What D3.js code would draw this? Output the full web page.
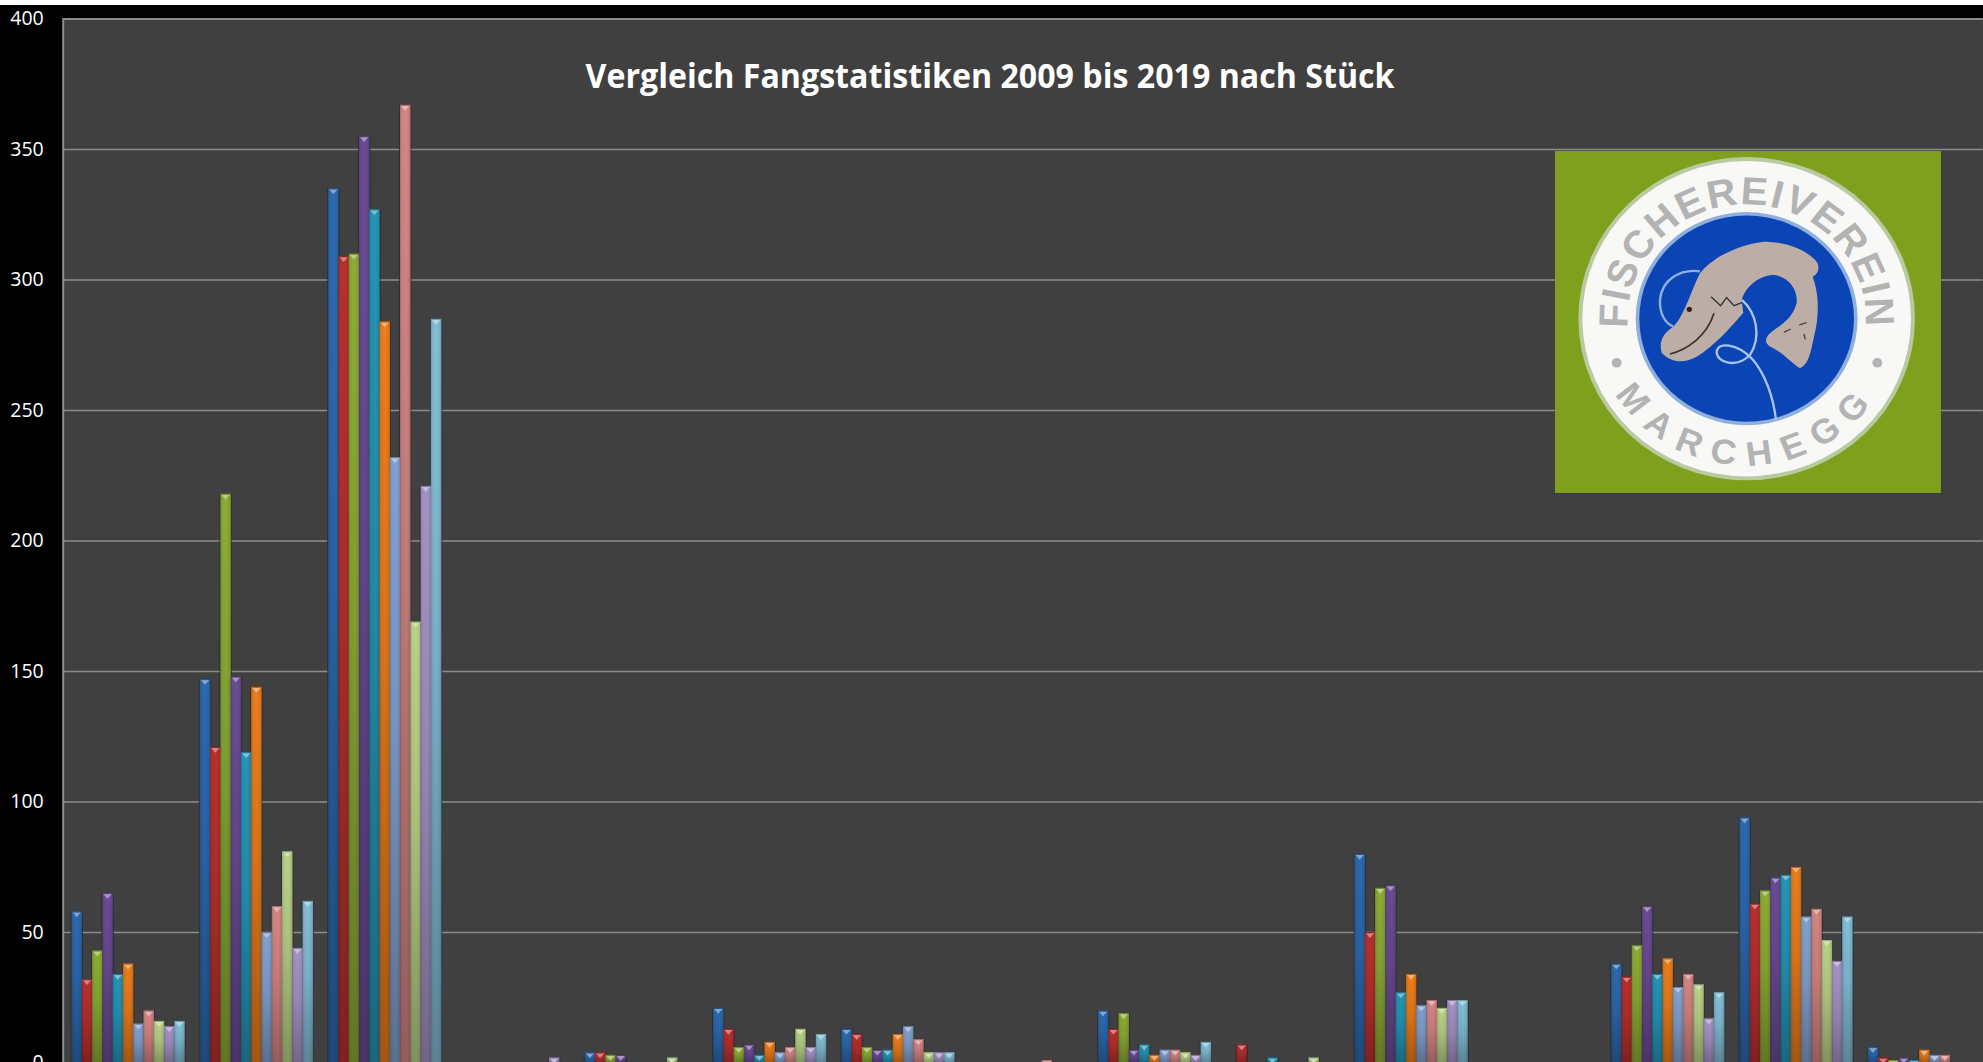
<!DOCTYPE html>
<html lang="de">
<head>
<meta charset="utf-8">
<title>Vergleich Fangstatistiken</title>
<script src="https://cdn.jsdelivr.net/npm/d3@7"></script>
<style>
html,body{margin:0;padding:0;background:#000;overflow:hidden}
svg{display:block}
</style>
</head>
<body>
<script>
const titleText = "Vergleich Fangstatistiken 2009 bis 2019 nach Stück";
const categories = ["1","2","3","4","5","6","7","8","9","10","11","12","13","14","15"];
const years = ["2009","2010","2011","2012","2013","2014","2015","2016","2017","2018","2019"];
const s2009 = [58,147,335,0,4,21,13,0,20,0,80,0,38,94,6];
const s2010 = [32,121,309,0,4,13,11,0,13,7,50,0,33,61,2];
const s2011 = [43,218,310,0,3,6,6,0,19,0,67,0,45,66,1];
const s2012 = [65,148,355,0,3,7,5,0,5,0,68,0,60,71,2];
const s2013 = [34,119,327,0,0,3,5,0,7,2,27,0,34,72,1];
const s2014 = [38,144,284,0,0,8,11,0,3,0,34,0,40,75,5];
const s2015 = [15,50,232,0,0,4,14,0,5,0,22,0,29,56,3];
const s2016 = [20,60,367,0,0,6,9,1,5,0,24,0,34,59,3];
const s2017 = [16,81,169,0,2,13,4,0,4,2,21,0,30,47,0];
const s2018 = [14,44,221,2,0,6,4,0,3,0,24,0,17,39,0];
const s2019 = [16,62,285,0,0,11,4,0,8,0,24,0,27,56,0];
const seriesValues = [s2009,s2010,s2011,s2012,s2013,s2014,s2015,s2016,s2017,s2018,s2019];
const colors = ["#2b67ab","#b32f2d","#88a834","#674a90","#2492b2","#e67a1b","#7f9dcb","#cf8381","#b5cd85","#a18fc1","#80bad2"];
const yTicks = [0,50,100,150,200,250,300,350,400];

const W = 1983, H = 1062;
const plot = {left:63.5, right:1988, top:19, bottom:1063};

const svg = d3.select("body").append("svg").attr("width",W).attr("height",H);
const defs = svg.append("defs");

svg.append("rect").attr("width",W).attr("height",H).attr("fill","#000");
svg.append("rect").attr("width",W).attr("height",5).attr("fill","#fff");
svg.append("rect").attr("x",plot.left).attr("y",plot.top)
   .attr("width",W-plot.left).attr("height",H-plot.top).attr("fill","#404040");

const y = d3.scaleLinear().domain([0,400]).range([plot.bottom,plot.top]);
const x0 = d3.scaleBand().domain(categories).range([plot.left,plot.right]).paddingInner(0).paddingOuter(0);
const groupInset = 8, groupW = 113;
const x1 = d3.scaleBand().domain(years).range([groupInset,groupInset+groupW]);

// axis and grid
const axis = d3.axisLeft(y).tickValues(yTicks).tickSize(-(W-plot.left)).tickPadding(20).offset(0);
const gAxis = svg.append("g").attr("transform",`translate(${plot.left-.3},0)`).call(axis);
gAxis.select(".domain").attr("stroke","#8c8c8c").attr("stroke-width",2);
gAxis.selectAll(".tick line").attr("stroke","#8c8c8c").attr("stroke-width",1.6);
gAxis.selectAll(".tick text").attr("fill","#fff").attr("x",-19.5)
     .style("font-family","'Open Sans',sans-serif").style("font-size","19.5px");

// bar paint: per-series horizontal shading, shared vertical shading
colors.forEach((c,i)=>{
  const g = defs.append("linearGradient").attr("id","bar"+i).attr("x1",0).attr("x2",1).attr("y1",0).attr("y2",0);
  const col = d3.color(c);
  [[0,col.darker(.45)],[.2,col],[.6,col.brighter(.08)],[.88,col.darker(.15)],[1,col.darker(.6)]]
    .forEach(([o,k])=>g.append("stop").attr("offset",o).attr("stop-color",k));
});
const shade = defs.append("linearGradient").attr("id","shade").attr("x1",0).attr("x2",0).attr("y1",0).attr("y2",1);
shade.append("stop").attr("offset",0).attr("stop-color","#000").attr("stop-opacity",0);
shade.append("stop").attr("offset",.45).attr("stop-color","#000").attr("stop-opacity",.08);
shade.append("stop").attr("offset",1).attr("stop-color","#000").attr("stop-opacity",.3);

const bars = svg.append("g");
const barData = [];
years.forEach((yr,si)=>seriesValues[si].forEach((v,ci)=>{ if(v>0) barData.push({yr,si,ci,v}); }));
const bw = x1.bandwidth();
const bx = d=>x0(categories[d.ci])+x1(d.yr);

// soft dark halo behind bars interrupts the gridlines
bars.selectAll("rect.halo").data(barData).join("rect").attr("class","halo")
  .attr("x",d=>bx(d)-1).attr("y",d=>y(d.v)-.5).attr("width",bw+2.2).attr("height",d=>plot.bottom-y(d.v)+.5)
  .attr("fill","#2a2a2a").attr("opacity",.75);
const one = bars.selectAll("g.bar").data(barData).join("g").attr("class","bar");
one.append("rect").attr("x",bx).attr("y",d=>y(d.v)).attr("width",bw+.3).attr("height",d=>plot.bottom-y(d.v))
   .attr("fill",d=>`url(#bar${d.si})`);
one.append("rect").attr("x",bx).attr("y",d=>y(d.v)).attr("width",bw+.3).attr("height",d=>plot.bottom-y(d.v))
   .attr("fill","url(#shade)");
// bevel on top of each column
one.append("path")
   .attr("d",d=>{const l=bx(d),t=y(d.v);return `M${l+1},${t+.6}L${l+bw-.7},${t+.6}L${l+bw/2},${t+5.5}Z`;})
   .attr("fill",d=>d3.interpolateRgb(colors[d.si],"#fff")(.42));
one.append("rect").attr("x",bx).attr("y",d=>y(d.v)-.4).attr("width",bw+.3).attr("height",1.2)
   .attr("fill",d=>d3.color(colors[d.si]).darker(.5));

// title
svg.append("text").attr("x",990).attr("y",88).attr("text-anchor","middle")
   .attr("fill","#fff").attr("textLength",809).attr("lengthAdjust","spacingAndGlyphs")
   .style("font-family","'Open Sans',sans-serif").style("font-weight",700).style("font-size","34.5px")
   .text(titleText);

// club badge (drawn in 3x local units)
const logo = svg.append("g").attr("transform","translate(1530,130) scale(0.3333)");
logo.append("rect").attr("x",75).attr("y",63).attr("width",1158).attr("height",1026).attr("fill","#7ea01c");
const seal = logo.append("g").attr("transform","translate(650,566) scale(1,0.96)");
seal.append("circle").attr("r",505).attr("fill","#b9c9a0");
seal.append("circle").attr("r",493).attr("fill","#f8f8f6");
seal.append("circle").attr("r",333).attr("fill","#8fb0dc");
seal.append("circle").attr("r",322).attr("fill","#0b44b4");
defs.append("path").attr("id","arcTop").attr("d","M-350,70A357,357 0 1 1 350,70");
defs.append("path").attr("id","arcBot").attr("d","M-415,194A458,458 0 0 0 415,194");
[["arcTop","FISCHEREIVEREIN","5px","122px"],["arcBot","MARCHEGG","38px","108px"]].forEach(([id,t,ls,fs])=>{
  const tx = seal.append("text").style("letter-spacing",ls).style("font-family","'Liberation Sans',sans-serif")
     .style("font-weight",700).style("font-size",fs).style("fill","#b3b3b3");
  tx.append("textPath").attr("href","#"+id).attr("startOffset","50%").attr("text-anchor","middle").text(t);
});
seal.append("circle").attr("cx",-390).attr("cy",138).attr("r",15).attr("fill","#b3b3b3");
seal.append("circle").attr("cx",392).attr("cy",138).attr("r",15).attr("fill","#b3b3b3");
logo.append("path").attr("fill","#bcaea7").attr("d","M395,668C388,640 392,615 430,590C462,560 480,490 510,430C545,385 620,345 700,335C770,335 830,360 860,395C872,415 862,435 848,440C868,490 868,560 852,620C842,665 838,700 810,715C785,700 760,670 730,655C712,648 700,635 715,615C740,590 785,575 800,520C805,475 770,435 725,435C680,440 645,475 635,510L640,548C600,595 550,650 500,680C470,695 430,705 395,668Z");
logo.append("path").attr("fill","none").attr("stroke","#8fb0dc").attr("stroke-width",7)
    .attr("d","M510,424C450,415 395,450 390,510C388,550 405,580 430,590");
logo.append("path").attr("fill","none").attr("stroke","#a9c4ea").attr("stroke-width",7)
    .attr("d","M636,510C680,550 695,620 660,675C620,715 560,700 560,665C565,635 620,640 665,685C705,730 730,800 738,870");
logo.append("path").attr("fill","none").attr("stroke","#35302e").attr("stroke-width",5)
    .attr("d","M420,672C470,660 530,620 552,550");
logo.append("path").attr("fill","none").attr("stroke","#35302e").attr("stroke-width",4)
    .attr("d","M543,500L572,527L590,503L612,527L636,518");
logo.append("circle").attr("cx",478).attr("cy",538).attr("r",8).attr("fill","#2a2522");
logo.append("path").attr("fill","none").attr("stroke","#4a4038").attr("stroke-width",4)
    .attr("d","M762,607L782,597M808,585L830,578M822,612L826,628");
</script>
</body>
</html>
